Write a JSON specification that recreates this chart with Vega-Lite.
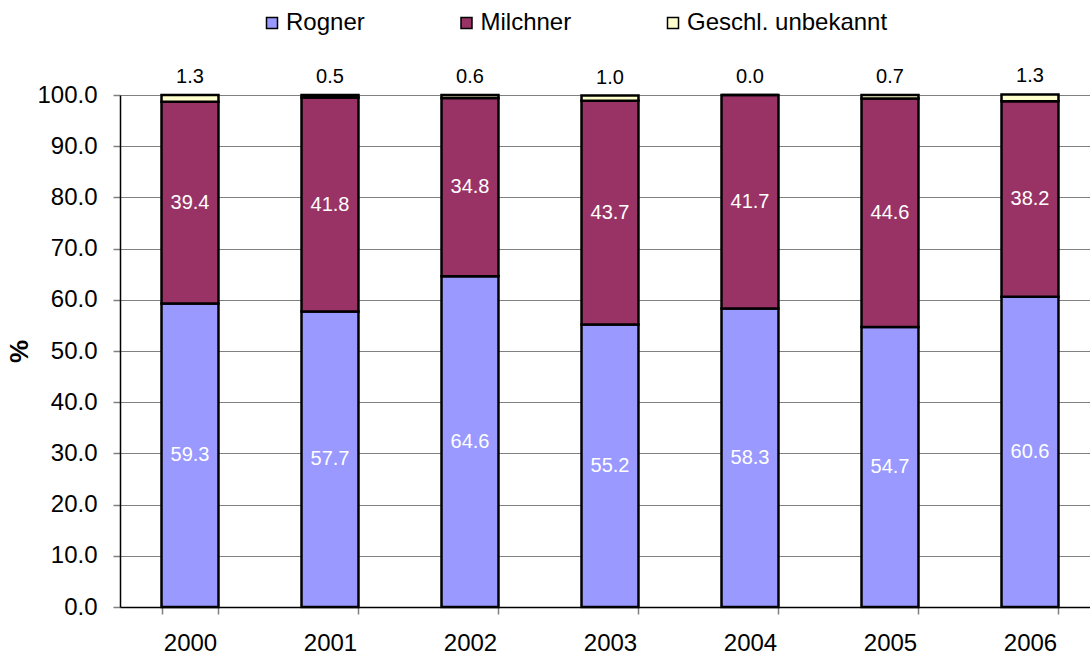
{
  "$schema": "https://vega.github.io/schema/vega-lite/v6.json",
  "width": 970,
  "height": 512,
  "autosize": {"type": "none"},
  "padding": {"left": 120, "top": 95, "right": 0, "bottom": 50},
  "background": "white",
  "config": {"font": "Liberation Sans", "view": {"stroke": null}},
  "data": {
    "values": [
      {"year": "2000", "sex": "Rogner", "order": 1, "value": 59.3},
      {"year": "2000", "sex": "Milchner", "order": 2, "value": 39.4},
      {"year": "2000", "sex": "Geschl. unbekannt", "order": 3, "value": 1.3},
      {"year": "2001", "sex": "Rogner", "order": 1, "value": 57.7},
      {"year": "2001", "sex": "Milchner", "order": 2, "value": 41.8},
      {"year": "2001", "sex": "Geschl. unbekannt", "order": 3, "value": 0.5},
      {"year": "2002", "sex": "Rogner", "order": 1, "value": 64.6},
      {"year": "2002", "sex": "Milchner", "order": 2, "value": 34.8},
      {"year": "2002", "sex": "Geschl. unbekannt", "order": 3, "value": 0.6},
      {"year": "2003", "sex": "Rogner", "order": 1, "value": 55.2},
      {"year": "2003", "sex": "Milchner", "order": 2, "value": 43.7},
      {"year": "2003", "sex": "Geschl. unbekannt", "order": 3, "value": 1.0},
      {"year": "2004", "sex": "Rogner", "order": 1, "value": 58.3},
      {"year": "2004", "sex": "Milchner", "order": 2, "value": 41.7},
      {"year": "2004", "sex": "Geschl. unbekannt", "order": 3, "value": 0.0},
      {"year": "2005", "sex": "Rogner", "order": 1, "value": 54.7},
      {"year": "2005", "sex": "Milchner", "order": 2, "value": 44.6},
      {"year": "2005", "sex": "Geschl. unbekannt", "order": 3, "value": 0.7},
      {"year": "2006", "sex": "Rogner", "order": 1, "value": 60.6},
      {"year": "2006", "sex": "Milchner", "order": 2, "value": 38.2},
      {"year": "2006", "sex": "Geschl. unbekannt", "order": 3, "value": 1.3}
    ]
  },
  "transform": [
    {"stack": "value", "groupby": ["year"], "sort": [{"field": "order", "order": "ascending"}], "as": ["y0", "y1"]},
    {"calculate": "(datum.y0 + datum.y1) / 2", "as": "ymid"}
  ],
  "encoding": {
    "x": {
      "field": "year",
      "type": "ordinal",
      "scale": {"range": [0, 980], "paddingInner": 0.593, "paddingOuter": 0.2965},
      "axis": {
        "title": null,
        "labelAngle": 0,
        "labelFontSize": 24,
        "labelColor": "black",
        "labelPadding": 17,
        "tickBand": "extent",
        "tickSize": 7,
        "tickColor": "#808080",
        "tickWidth": 1.5,
        "domainColor": "black",
        "domainWidth": 1.5
      }
    }
  },
  "layer": [
    {
      "mark": {"type": "bar", "stroke": "black", "strokeWidth": 2.5},
      "encoding": {
        "y": {
          "field": "y0",
          "type": "quantitative",
          "scale": {"domain": [0, 100], "nice": false},
          "axis": {
            "values": [0, 10, 20, 30, 40, 50, 60, 70, 80, 90, 100],
            "format": ".1f",
            "labelFontSize": 24,
            "labelColor": "black",
            "labelPadding": 16,
            "tickSize": 7,
            "tickColor": "#808080",
            "tickWidth": 1.5,
            "domainColor": "black",
            "domainWidth": 1.5,
            "grid": true,
            "gridColor": "#808080",
            "gridWidth": 1.2,
            "title": "%",
            "titleFontSize": 26,
            "titleFontWeight": "bold",
            "titleColor": "black",
            "titlePadding": 4
          }
        },
        "y2": {"field": "y1"},
        "color": {
          "field": "sex",
          "type": "nominal",
          "scale": {
            "domain": ["Rogner", "Milchner", "Geschl. unbekannt"],
            "range": ["#9999FF", "#993366", "#FFFFCC"]
          },
          "legend": {
            "title": null,
            "orient": "none",
            "direction": "horizontal",
            "legendX": 140,
            "legendY": -84,
            "symbolType": "square",
            "symbolSize": 121,
            "symbolStrokeColor": "black",
            "symbolStrokeWidth": 1.5,
            "labelFontSize": 24,
            "labelColor": "black",
            "labelOffset": 2,
            "labelLimit": 400,
            "columnPadding": 89.5
          }
        }
      }
    },
    {
      "transform": [{"filter": "datum.sex !== 'Geschl. unbekannt'"}],
      "mark": {"type": "text", "color": "white", "fontSize": 20, "baseline": "middle"},
      "encoding": {
        "y": {"field": "ymid", "type": "quantitative"},
        "text": {"field": "value", "type": "quantitative", "format": ".1f"}
      }
    },
    {
      "transform": [{"filter": "datum.sex === 'Geschl. unbekannt'"}],
      "mark": {"type": "text", "color": "black", "fontSize": 20, "baseline": "alphabetic", "dy": -12},
      "encoding": {
        "y": {"field": "y1", "type": "quantitative"},
        "text": {"field": "value", "type": "quantitative", "format": ".1f"}
      }
    }
  ]
}
